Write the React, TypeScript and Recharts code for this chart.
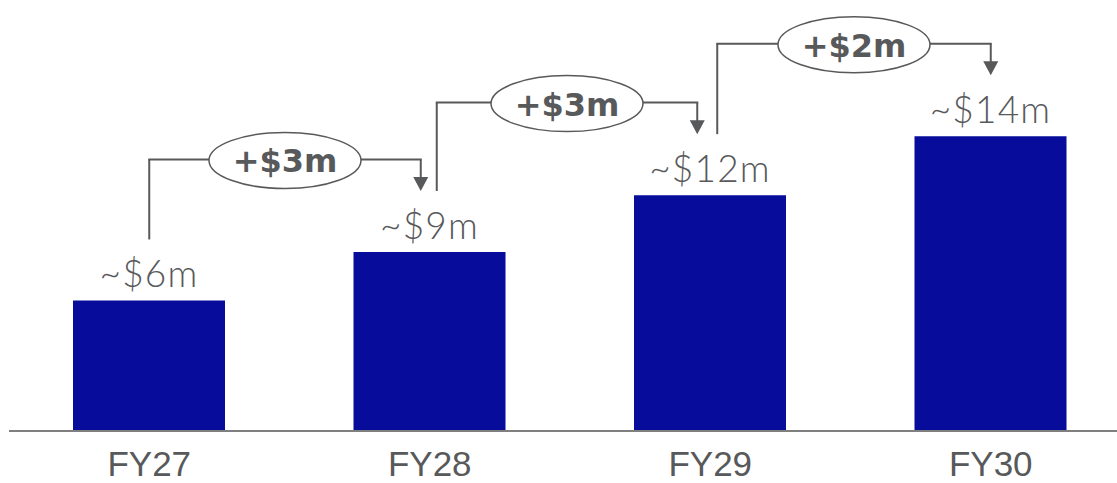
import { BarChart, Bar, XAxis, YAxis, ReferenceLine, LabelList } from 'recharts'

const categories = ['FY27', 'FY28', 'FY29', 'FY30']
const revenue = [6.2, 8.5, 11.2, 14]
const valueLabels = ['~$6m', '~$9m', '~$12m', '~$14m']
const stepLabels = ['+$3m', '+$3m', '+$2m']

const data = categories.map((fy, i) => ({ fy, revenue: revenue[i], label: valueLabels[i] }))

const BAR = '#070d9a'
const GREY = '#58595b'

// connector layout, in axis units above each bar
const LABEL_CLEAR = 2.9
const BRIDGE = 4.4
const LEFT_DX = [0, 7, 7]
const RIGHT_DX = [-9, -13, 0]

const ValueLabel = (props: any) => {
  const { x, y, width, value } = props
  return (
    <text
      x={x + width / 2}
      y={y - 13}
      textAnchor="middle"
      fill={GREY}
      fontFamily="Lato, sans-serif"
      fontWeight={300}
      fontSize={37}
      letterSpacing={1.2}
    >
      {value}
    </text>
  )
}

const FyTick = (props: any) => {
  const { x, y, payload } = props
  return (
    <text
      x={x}
      y={y}
      textAnchor="middle"
      fill={GREY}
      fontSize={35}
      fontFamily='"Liberation Sans", Arial, sans-serif'
    >
      {payload.value}
    </text>
  )
}

export default function App() {
  return (
    <div style={{ position: 'absolute', left: 0, top: 0, width: 1117, height: 483, overflow: 'hidden' }}>
      <BarChart width={1131} height={483} data={data} margin={{ top: 10, right: 0, left: 9, bottom: 0 }} barSize={152}>
        <YAxis hide domain={[0, 20]} />
        <XAxis
          dataKey="fy"
          height={52}
          axisLine={{ stroke: '#7f7f7f', strokeWidth: 2 }}
          tickLine={false}
          tickSize={0}
          tickMargin={44.5}
          tick={FyTick}
        />
        <Bar dataKey="revenue" fill={BAR} isAnimationActive={false}>
          <LabelList dataKey="label" content={ValueLabel} />
        </Bar>
        {stepLabels.map((step, i) => {
          const from = categories[i]
          const to = categories[i + 1]
          const start = revenue[i] + LABEL_CLEAR
          const top = revenue[i + 1] + BRIDGE
          const end = revenue[i + 1] + LABEL_CLEAR
          const ldx = LEFT_DX[i]
          const rdx = RIGHT_DX[i]
          return [
            <ReferenceLine
              key={`up-${i}`}
              segment={[{ x: from, y: start }, { x: from, y: top }]}
              shape={(p: any) => (
                <line x1={p.x1 + ldx} y1={p.y1} x2={p.x2 + ldx} y2={p.y2} stroke={GREY} strokeWidth={2} />
              )}
            />,
            <ReferenceLine
              key={`down-${i}`}
              segment={[{ x: to, y: top }, { x: to, y: end }]}
              shape={(p: any) => {
                const ax = p.x2 + rdx
                return (
                  <g>
                    <line x1={ax} y1={p.y1} x2={ax} y2={p.y2 - 12} stroke={GREY} strokeWidth={2} />
                    <polygon points={`${ax},${p.y2} ${ax - 7.5},${p.y2 - 14} ${ax + 7.5},${p.y2 - 14}`} fill={GREY} />
                  </g>
                )
              }}
            />,
            <ReferenceLine
              key={`across-${i}`}
              segment={[{ x: from, y: top }, { x: to, y: top }]}
              shape={(p: any) => {
                const x1 = p.x1 + ldx
                const x2 = p.x2 + rdx
                const cx = (x1 + x2) / 2
                return (
                  <g>
                    <line x1={x1 - 1} y1={p.y1} x2={x2 + 1} y2={p.y2} stroke={GREY} strokeWidth={2} />
                    <ellipse cx={cx} cy={p.y1 + 1} rx={76} ry={28} fill="#fff" stroke={GREY} strokeWidth={1.5} />
                    <text
                      x={cx}
                      y={p.y1 + 13}
                      textAnchor="middle"
                      fill={GREY}
                      fontFamily='"DejaVu Sans", sans-serif'
                      fontWeight={700}
                      fontSize={32}
                    >
                      {step}
                    </text>
                  </g>
                )
              }}
            />,
          ]
        })}
      </BarChart>
    </div>
  )
}
